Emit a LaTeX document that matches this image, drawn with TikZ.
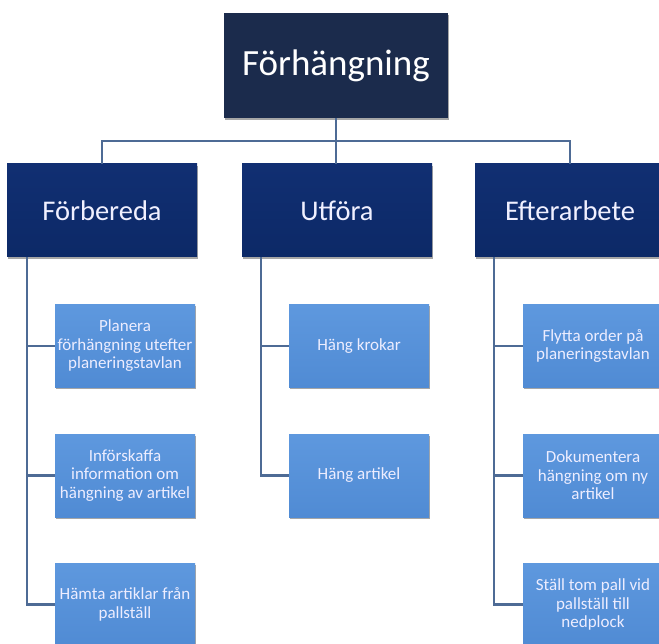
\documentclass[tikz,border=0pt]{standalone}
\usepackage{fontspec}
\setmainfont{Carlito}
\usetikzlibrary{shadows,calc}

\definecolor{rootfill}{HTML}{1B2B4C}
\definecolor{phasetop}{HTML}{112F72}
\definecolor{phasebot}{HTML}{0C2967}
\definecolor{tasktop}{HTML}{5E98DE}
\definecolor{taskbot}{HTML}{508BD4}
\definecolor{connline}{HTML}{4E6B95}

\tikzset{
  boxshadow/.style={drop shadow={shadow xshift=1pt, shadow yshift=-2pt, opacity=0.35, fill=black}},
  rootbox/.style={boxshadow, fill=rootfill, text=white, minimum width=224pt, minimum height=105pt,
    inner sep=0pt, font=\fontsize{37}{44}\selectfont},
  phasebox/.style={boxshadow, top color=phasetop, bottom color=phasebot, text=white!94!blue,
    minimum width=190pt, minimum height=93pt, inner sep=0pt, font=\fontsize{28.5}{34}\selectfont},
  taskbox/.style={boxshadow, top color=tasktop, bottom color=taskbot, text=white!93!blue,
    minimum width=140pt, minimum height=83pt, inner sep=0pt, align=center,
    font=\fontsize{17}{18.5}\selectfont},
  conn/.style={draw=connline, line width=2.2pt}
}

\begin{document}
\begin{tikzpicture}[x=1pt, y=-1pt]
\useasboundingbox (0,0) rectangle (659,644);
\clip (0,0) rectangle (659,644);

% top level
\node[rootbox] (root) at (336,65.5) {Förhängning};

% phases
\node[phasebox] (pA) at (102,210.5) {Förbereda};
\node[phasebox] (pB) at (337,210.5) {Utföra};
\node[phasebox] (pC) at (570,210.5) {Efterarbete};

% tasks
\node[taskbox] (a1) at (125,346)   {Planera\\förhängning utefter\\planeringstavlan};
\node[taskbox] (a2) at (125,475.5) {Införskaffa\\information om\\hängning av artikel};
\node[taskbox] (a3) at (125,604.5) {Hämta artiklar från\\pallställ};

\node[taskbox] (b1) at (359,346)   {Häng krokar};
\node[taskbox] (b2) at (359,475.5) {Häng artikel};

\node[taskbox] (c1) at (593,346)   {Flytta order på\\planeringstavlan};
\node[taskbox] (c2) at (593,475.5) {Dokumentera\\hängning om ny\\artikel};
\node[taskbox] (c3) at (593,604.5) {Ställ tom pall vid\\pallställ till\\nedplock};

% connectors: top level to phases
\coordinate (bus) at (336,141);
\draw[conn] (root.south) -- (root.south |- pB.north);
\draw[conn] (pA.north) |- (bus) -| (pC.north);

% connectors: phases to tasks
\coordinate (tA) at ($(pA.south west)+(20,0)$);
\coordinate (tB) at ($(pB.south west)+(19,0)$);
\coordinate (tC) at ($(pC.south west)+(19,0)$);
\draw[conn] (tA) |- (a1.west);
\draw[conn] (tA) |- (a2.west);
\draw[conn] (tA) |- (a3.west);
\draw[conn] (tB) |- (b1.west);
\draw[conn] (tB) |- (b2.west);
\draw[conn] (tC) |- (c1.west);
\draw[conn] (tC) |- (c2.west);
\draw[conn] (tC) |- (c3.west);
\end{tikzpicture}
\end{document}
